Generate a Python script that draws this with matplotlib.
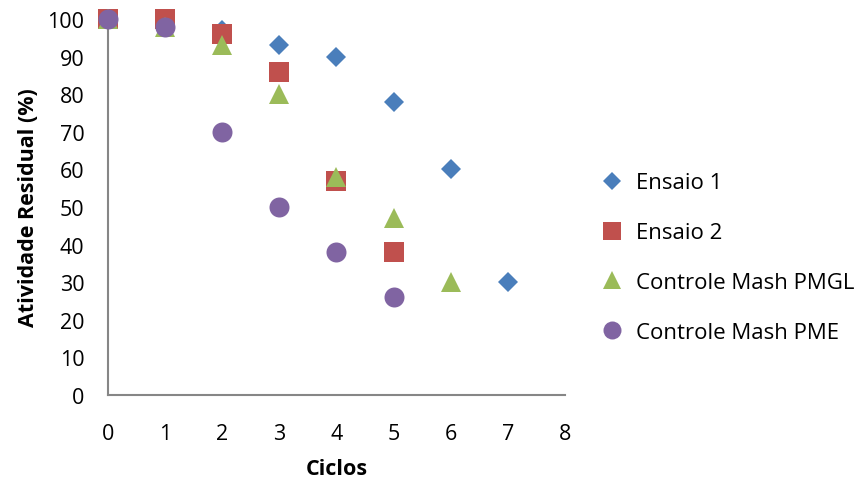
import matplotlib
matplotlib.use("Agg")
import matplotlib.pyplot as plt

plt.rcParams["font.family"] = ["Open Sans", "DejaVu Sans"]

ciclos_e1 = [0, 1, 2, 3, 4, 5, 6, 7]
ensaio_1 = [100, 100, 97, 93, 90, 78, 60, 30]

ciclos_e2 = [0, 1, 2, 3, 4, 5]
ensaio_2 = [100, 100, 96, 86, 57, 38]

ciclos_pmgl = [0, 1, 2, 3, 4, 5, 6]
controle_pmgl = [100, 98, 93, 80, 58, 47, 30]

ciclos_pme = [0, 1, 2, 3, 4, 5]
controle_pme = [100, 98, 70, 50, 38, 26]

x_ticks = list(range(0, 9))
y_ticks = list(range(0, 101, 10))

fig = plt.figure(figsize=(8.67, 4.81), dpi=100)
ax = fig.add_axes([0.1246, 0.1767, 0.527, 0.7817])

series = [
    (ciclos_e1, ensaio_1, "D", 10.2, "#4A7EBB", "Ensaio 1"),
    (ciclos_e2, ensaio_2, "s", 14.2, "#C0504D", "Ensaio 2"),
    (ciclos_pmgl, controle_pmgl, "^", 14.4, "#9BBB59", "Controle Mash PMGL"),
    (ciclos_pme, controle_pme, "o", 14.4, "#8064A2", "Controle Mash PME"),
]
for xs, ys, mk, ms, color, label in series:
    ax.plot(xs, ys, linestyle="none", marker=mk, markersize=ms, color=color,
            markeredgewidth=0, label=label, clip_on=False, zorder=3)

ax.set_xlim(0, 8)
ax.set_ylim(0, 100)
ax.set_xticks(x_ticks)
ax.set_yticks(y_ticks)
ax.tick_params(length=0, labelsize=15.5)
ax.tick_params(axis="x", pad=20)
ax.tick_params(axis="y", pad=17)
for side in ("top", "right"):
    ax.spines[side].set_visible(False)
for side in ("left", "bottom"):
    ax.spines[side].set_color("#868686")
    ax.spines[side].set_linewidth(1.5)

ax.set_xlabel("Ciclos", fontsize=15.5, fontweight="bold", labelpad=10)
ax.set_ylabel("Atividade Residual (%)", fontsize=15.5, fontweight="bold", labelpad=6)

fig.legend(loc="center left", bbox_to_anchor=(0.670, 0.462), frameon=False,
           fontsize=16, handletextpad=0.6, handlelength=1.0, labelspacing=1.3,
           markerscale=0.9)

fig.savefig("out.png", dpi=100)
